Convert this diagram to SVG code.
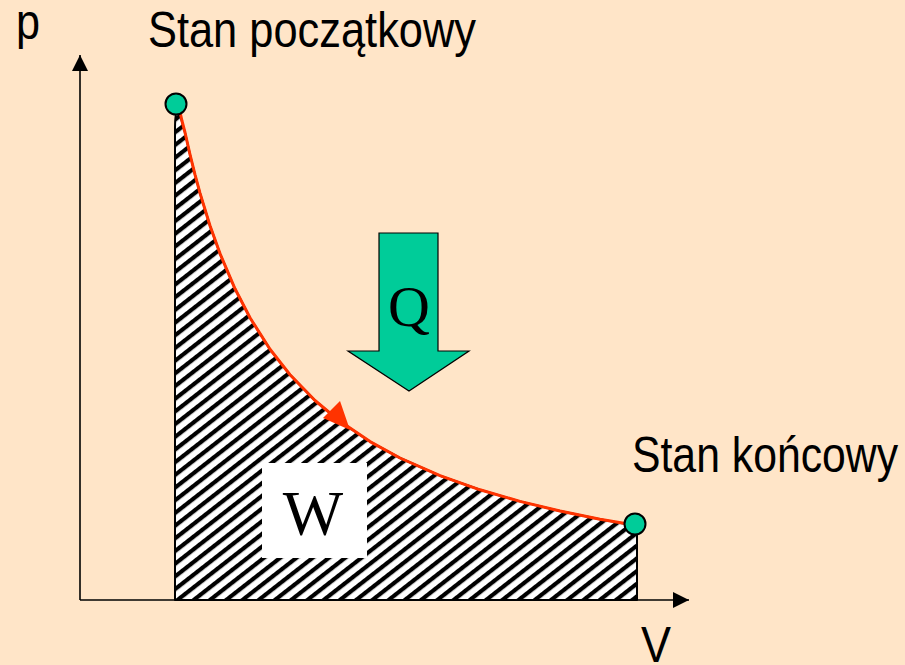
<svg xmlns="http://www.w3.org/2000/svg" width="905" height="665" viewBox="0 0 905 665">
  <style>
    .lbl { font-family: "Liberation Sans", Arial, sans-serif; font-size: 50px; fill: #000; }
    .ser { font-family: "Liberation Serif", "Times New Roman", serif; fill: #000; }
    .axis { stroke: #000; stroke-width: 1.6; fill: none; }
    .dot { fill: #00CC99; stroke: #000; stroke-width: 2; }
  </style>
  <defs>
    <pattern id="hatch" patternUnits="userSpaceOnUse" width="20" height="10" patternTransform="rotate(-38)">
      <rect x="0" y="0" width="20" height="10" fill="#fff"/>
      <rect x="0" y="0" width="20" height="4.2" fill="#000"/>
    </pattern>
    <marker id="axhead" viewBox="0 0 16 16" refX="16" refY="8" markerWidth="16" markerHeight="16" markerUnits="userSpaceOnUse" orient="auto">
      <path d="M0,0 L16,8 L0,16 Z" fill="#000"/>
    </marker>
  </defs>
  <rect width="905" height="665" fill="#FFE5C8"/>

  <g id="axes">
    <line class="axis" x1="80" y1="600" x2="80" y2="55" marker-end="url(#axhead)"/>
    <line class="axis" x1="80" y1="600" x2="689" y2="600" marker-end="url(#axhead)"/>
  </g>

  <g id="work-area">
    <path d="M175,600 L175,128 Q175,112 178,108 L182,122 L185,132.5 L190,154.5 L195,174.7 L200,193.1 L210,225.7 L220,253.6 L235,288.8 L250,317.8 L270,349.3 L290,374.8 L315,400.5 L340,421.3 L370,441.6 L400,458 L440,475.7 L480,489.8 L520,501.4 L560,511 L600,519.2 L637,526 L637,600 Z" fill="url(#hatch)" stroke="#000" stroke-width="2" stroke-linejoin="round"/>
  </g>

  <g id="w-label">
    <rect x="262" y="463" width="105" height="95" fill="#fff"/>
    <text class="ser" x="313" y="535" font-size="64" text-anchor="middle">W</text>
  </g>

  <g id="connectors">
    <polyline points="177,106 180,112 182,121 185,132.5 190,154.5 195,174.7 200,193.1 210,225.7 220,253.6 235,288.8 250,317.8 270,349.3 290,374.8 315,400.5 340,421.3 370,441.6 400,458 440,475.7 480,489.8 520,501.4 560,511 600,519.2 634,525" fill="none" stroke="#FF3300" stroke-width="3" stroke-linejoin="round" stroke-linecap="round"/>
    <polygon points="323,418 340,401 350,430" fill="#FF3300"/>
  </g>

  <g id="q-arrow">
    <polygon points="379,233 438,233 438,351 469,351 409,391 348,351 379,351" fill="#00CC99" stroke="#000" stroke-width="1.2"/>
    <text class="ser" x="409" y="326" font-size="58" text-anchor="middle">Q</text>
  </g>

  <g id="state-start">
    <circle class="dot" cx="176" cy="104" r="10.5"/>
    <text class="lbl" x="148" y="47" textLength="328" lengthAdjust="spacingAndGlyphs">Stan początkowy</text>
  </g>

  <g id="state-end">
    <circle class="dot" cx="635" cy="524" r="10.5"/>
    <text class="lbl" x="632" y="472" textLength="266" lengthAdjust="spacingAndGlyphs">Stan końcowy</text>
  </g>

  <g id="axis-labels">
    <text class="lbl" x="16" y="39" textLength="24" lengthAdjust="spacingAndGlyphs">p</text>
    <text class="lbl" x="641" y="662" textLength="30" lengthAdjust="spacingAndGlyphs">V</text>
  </g>
</svg>
